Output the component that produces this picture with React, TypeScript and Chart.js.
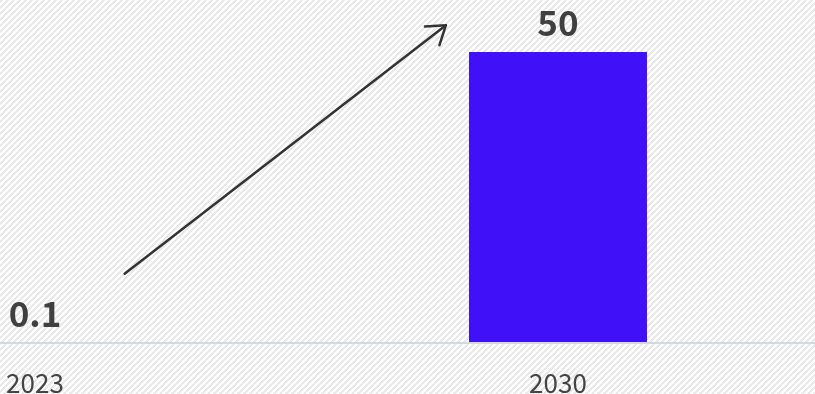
import React, { useEffect, useRef } from "react";
import { Chart, registerables } from "chart.js";

Chart.register(...registerables);

const years = [2023, 2030];
const values = [0.1, 50];
const valueLabels = ["0.1", "50"];
const tickYears = [2023, 2030];
const arrowFrom = { x: 2024.2, y: 11.9 };
const arrowTo = { x: 2028.5, y: 54.6 };

const FONT = '"Noto Sans CJK KR", "Noto Sans", sans-serif';

const bgPlugin = {
  id: "hatchBg",
  beforeDraw(chart: any) {
    const ctx = chart.ctx;
    const tile = document.createElement("canvas");
    tile.width = 6;
    tile.height = 6;
    const t = tile.getContext("2d")!;
    t.fillStyle = "#ffffff";
    t.fillRect(0, 0, 6, 6);
    t.fillStyle = "#e9e9e9";
    for (let x = 0; x < 6; x++) {
      for (let y = 0; y < 6; y++) {
        if ((x + y) % 6 < 3) t.fillRect(x, y, 1, 1);
      }
    }
    const pat = ctx.createPattern(tile, "repeat");
    ctx.save();
    ctx.fillStyle = pat;
    ctx.fillRect(0, 0, chart.width, chart.height);
    ctx.restore();
  },
};

const overlayPlugin = {
  id: "overlay",
  afterDraw(chart: any) {
    const ctx = chart.ctx;
    const xs = chart.scales.x;
    const ys = chart.scales.y;
    ctx.save();
    ctx.fillStyle = "#404040";
    ctx.font = `bold 35px ${FONT}`;
    ctx.textAlign = "center";
    ctx.textBaseline = "alphabetic";
    const meta = chart.getDatasetMeta(0);
    meta.data.forEach((bar: any, i: number) => {
      ctx.fillText(valueLabels[i], bar.x, bar.y - 15.5);
    });
    const x1 = xs.getPixelForValue(arrowFrom.x);
    const y1 = ys.getPixelForValue(arrowFrom.y);
    const x2 = xs.getPixelForValue(arrowTo.x);
    const y2 = ys.getPixelForValue(arrowTo.y);
    ctx.strokeStyle = "#333333";
    ctx.lineWidth = 2.5;
    ctx.lineCap = "round";
    ctx.lineJoin = "round";
    ctx.beginPath();
    ctx.moveTo(x1, y1);
    ctx.lineTo(x2, y2);
    ctx.stroke();
    const ang = Math.atan2(y2 - y1, x2 - x1);
    const hl = 21;
    ctx.beginPath();
    ctx.moveTo(x2 - hl * Math.cos(ang - 0.6), y2 - hl * Math.sin(ang - 0.6));
    ctx.lineTo(x2, y2);
    ctx.lineTo(x2 - hl * Math.cos(ang + 0.6), y2 - hl * Math.sin(ang + 0.6));
    ctx.stroke();
    ctx.restore();
  },
};

export default function App() {
  const ref = useRef<HTMLCanvasElement>(null);
  useEffect(() => {
    if (!ref.current) return;
    const chart = new Chart(ref.current, {
      type: "bar",
      data: {
        datasets: [
          {
            data: years.map((y, i) => ({ x: y, y: values[i] })),
            backgroundColor: "#4010f8",
            borderWidth: 0,
            barThickness: 178,
            inflateAmount: 0,
          },
        ],
      },
      options: {
        animation: false,
        responsive: true,
        maintainAspectRatio: false,
        layout: { padding: 0 },
        plugins: { legend: { display: false }, tooltip: { enabled: false } },
        scales: {
          x: {
            type: "linear",
            min: 2022.532,
            max: 2033.44,
            offset: false,
            afterBuildTicks: (s: any) => {
              s.ticks = tickYears.map((v) => ({ value: v }));
            },
            afterFit: (s: any) => {
              s.height = 51;
              s.paddingLeft = 0;
              s.paddingRight = 0;
            },
            grid: { display: false, drawTicks: false },
            border: { display: true, color: "#d3d9e1", width: 2, z: 1 },
            ticks: {
              padding: 25,
              color: "#444444",
              font: { family: FONT, size: 26 },
              callback: (v: any) => String(v),
              maxRotation: 0,
            },
          },
          y: {
            display: false,
            min: 0,
            max: 58.93,
          },
        },
      },
      plugins: [bgPlugin, overlayPlugin],
    });
    return () => chart.destroy();
  }, []);
  return (
    <div style={{ position: "fixed", left: 0, top: 0, width: 815, height: 394 }}>
      <canvas ref={ref} />
    </div>
  );
}
